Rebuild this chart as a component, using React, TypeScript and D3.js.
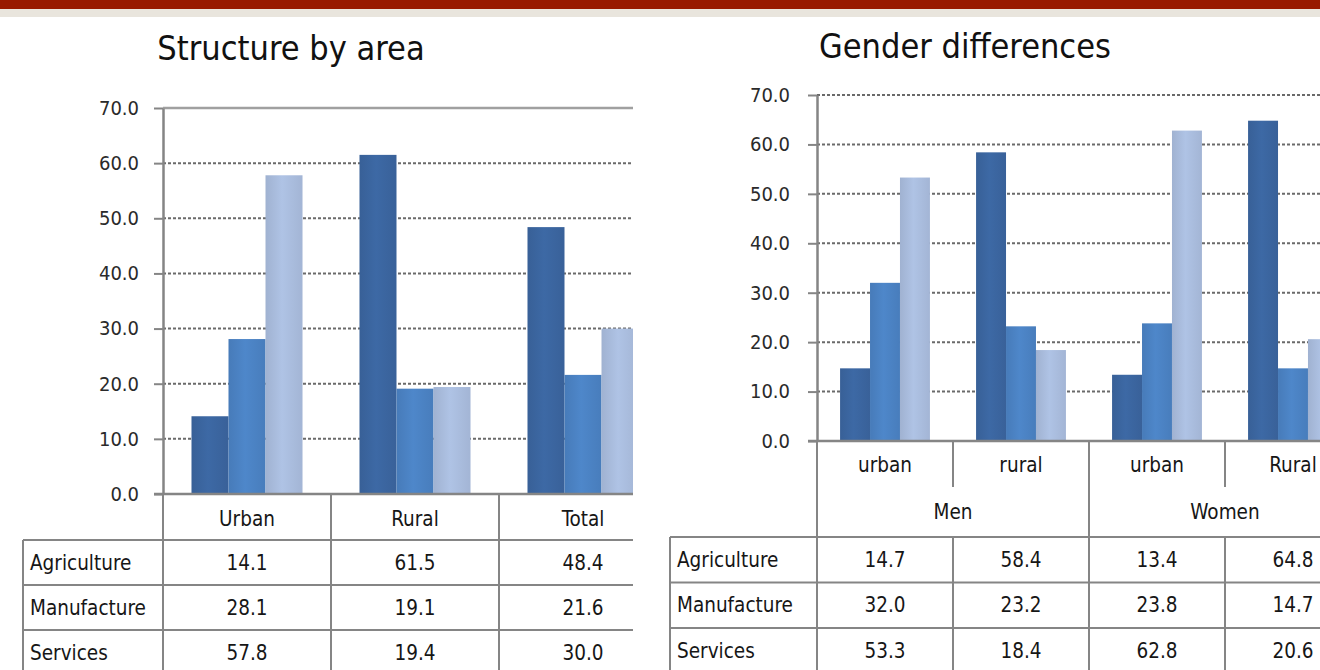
import React, { useEffect, useRef } from "react";
import * as d3 from "d3";

// data
const sectors = ["Agriculture", "Manufacture", "Services"];
const colors = ["#3b659f", "#4b82c3", "#a9bcdd"];
const yTicks = [0, 10, 20, 30, 40, 50, 60, 70];

const areaCategories = ["Urban", "Rural", "Total"];
const areaAgriculture = [14.1, 61.5, 48.4];
const areaManufacture = [28.1, 19.1, 21.6];
const areaServices = [57.8, 19.4, 30.0];

const genderCategories = ["urban", "rural", "urban", "Rural"];
const genderGroups = ["Men", "Women"];
const genderAgriculture = [14.7, 58.4, 13.4, 64.8];
const genderManufacture = [32.0, 23.2, 23.8, 14.7];
const genderServices = [53.3, 18.4, 62.8, 20.6];

const FONT = '"Liberation Sans Narrow", "DejaVu Sans Condensed", "Liberation Sans", sans-serif';
const GRID = "#6a6a6a";
const BORDER = "#858585";
const TXT = 20.5;

export default function App() {
  const ref = useRef<SVGSVGElement>(null);

  useEffect(() => {
    const svg = d3.select(ref.current);
    svg.selectAll("*").remove();

    // top decoration bands
    svg.append("rect").attr("x", 0).attr("y", 0).attr("width", 1320).attr("height", 9).attr("fill", "#981a00");
    svg.append("rect").attr("x", 0).attr("y", 9).attr("width", 1320).attr("height", 8).attr("fill", "#e9e5dd");

    const defs = svg.append("defs");
    colors.forEach((c, i) => {
      const g = defs.append("linearGradient").attr("id", `grad${i}`).attr("x1", 0).attr("x2", 1).attr("y1", 0).attr("y2", 0);
      g.append("stop").attr("offset", "0%").attr("stop-color", d3.color(c)!.darker(0.15).toString());
      g.append("stop").attr("offset", "45%").attr("stop-color", d3.color(c)!.brighter(0.1).toString());
      g.append("stop").attr("offset", "100%").attr("stop-color", d3.color(c)!.darker(0.1).toString());
    });
    defs.append("clipPath").attr("id", "clipLeft").append("rect").attr("x", 0).attr("y", 0).attr("width", 633).attr("height", 670);

    const label = (g: any, x: number, y: number, t: string, anchor = "middle") =>
      g
        .append("text")
        .attr("x", x)
        .attr("y", y)
        .attr("dy", "0.35em")
        .attr("text-anchor", anchor)
        .attr("font-family", FONT)
        .attr("font-size", TXT)
        .attr("fill", "#161616")
        .text(t);

    function drawChart(opts: {
      g: d3.Selection<SVGGElement, unknown, null, undefined>;
      cats: string[];
      series: number[][];
      left: number;
      step: number;
      right: number;
      top: number;
      bottom: number;
      topSolid: boolean;
      tickPad: number;
      tableTop: number;
      rowH: number;
      tableLeft: number;
    }) {
      const { g, cats, series, left, step, right, top, bottom } = opts;
      const y = d3.scaleLinear().domain([0, 70]).range([bottom, top]);
      const x0 = d3
        .scaleBand<number>()
        .domain(cats.map((_, i) => i))
        .range([left, left + step * cats.length]);
      const x1 = d3.scaleBand<number>().domain([0, 1, 2]).range([0, x0.bandwidth()]).paddingOuter(0.77);

      // gridlines
      g.selectAll("line.grid")
        .data(yTicks.filter((t) => t > 0))
        .enter()
        .append("line")
        .attr("x1", left)
        .attr("x2", right)
        .attr("y1", (d) => y(d))
        .attr("y2", (d) => y(d))
        .attr("stroke", (d) => (d === 70 && opts.topSolid ? "#a0a0a0" : GRID))
        .attr("stroke-width", (d) => (d === 70 && opts.topSolid ? 2.5 : 2))
        .attr("stroke-dasharray", (d) => (d === 70 && opts.topSolid ? null : "3,2"));

      // bars
      cats.forEach((_, ci) => {
        series.forEach((vals, si) => {
          g.append("rect")
            .attr("x", x0(ci)! + x1(si)!)
            .attr("y", y(vals[ci]))
            .attr("width", x1.bandwidth())
            .attr("height", bottom - y(vals[ci]))
            .attr("fill", `url(#grad${si})`);
        });
      });

      // y axis
      const axis = g
        .append("g")
        .attr("transform", `translate(${left},0)`)
        .call(
          d3
            .axisLeft(y)
            .tickValues(yTicks)
            .tickFormat(d3.format(".1f"))
            .tickSize(9)
            .tickSizeOuter(0)
            .tickPadding(opts.tickPad)
        );
      axis.select(".domain").attr("stroke", BORDER).attr("stroke-width", 2.5);
      axis.selectAll(".tick line").attr("stroke", BORDER).attr("stroke-width", 2);
      axis
        .selectAll(".tick text")
        .attr("font-family", FONT)
        .attr("font-size", 20)
        .attr("fill", "#2a2a2a");

      // x axis line
      g.append("line")
        .attr("x1", left - 9)
        .attr("x2", right)
        .attr("y1", bottom)
        .attr("y2", bottom)
        .attr("stroke", BORDER)
        .attr("stroke-width", 2.5);

      // table rows
      const rowTops = sectors.map((_, i) => opts.tableTop + i * opts.rowH);
      g.selectAll("line.row")
        .data(rowTops)
        .enter()
        .append("line")
        .attr("x1", opts.tableLeft)
        .attr("x2", right)
        .attr("y1", (d) => d)
        .attr("y2", (d) => d)
        .attr("stroke", BORDER)
        .attr("stroke-width", 2);
      g.append("line")
        .attr("x1", opts.tableLeft)
        .attr("x2", opts.tableLeft)
        .attr("y1", opts.tableTop)
        .attr("y2", 680)
        .attr("stroke", BORDER)
        .attr("stroke-width", 2);
      g.append("line")
        .attr("x1", left)
        .attr("x2", left)
        .attr("y1", bottom)
        .attr("y2", 680)
        .attr("stroke", BORDER)
        .attr("stroke-width", 2);

      sectors.forEach((s, si) => {
        label(g, opts.tableLeft + 7, rowTops[si] + opts.rowH / 2, s, "start");
        cats.forEach((_, ci) => {
          label(g, x0(ci)! + x0.bandwidth() / 2, rowTops[si] + opts.rowH / 2, d3.format(".1f")(series[si][ci]));
        });
      });
      return { x0, y };
    }

    // left chart
    const gl = svg.append("g").attr("clip-path", "url(#clipLeft)");
    const left = drawChart({
      g: gl,
      cats: areaCategories,
      series: [areaAgriculture, areaManufacture, areaServices],
      left: 163,
      step: 168,
      right: 633,
      top: 108,
      bottom: 494,
      topSolid: true,
      tickPad: 15,
      tableTop: 540,
      rowH: 45,
      tableLeft: 23,
    });
    areaCategories.forEach((c, ci) => {
      if (ci > 0)
        gl.append("line")
          .attr("x1", left.x0(ci)!)
          .attr("x2", left.x0(ci)!)
          .attr("y1", 494)
          .attr("y2", 680)
          .attr("stroke", BORDER)
          .attr("stroke-width", 2);
      label(gl, left.x0(ci)! + left.x0.bandwidth() / 2, 519, c);
    });

    // right chart
    const gr = svg.append("g");
    const right = drawChart({
      g: gr,
      cats: genderCategories,
      series: [genderAgriculture, genderManufacture, genderServices],
      left: 817,
      step: 136,
      right: 1320,
      top: 95,
      bottom: 441,
      topSolid: false,
      tickPad: 18,
      tableTop: 537,
      rowH: 45.5,
      tableLeft: 670,
    });
    genderCategories.forEach((c, ci) => {
      if (ci > 0) {
        const x = right.x0(ci)!;
        const segs = ci % 2 === 0 ? [[441, 680]] : [[441, 487], [537, 680]];
        segs.forEach(([a, b]) =>
          gr.append("line")
            .attr("x1", x)
            .attr("x2", x)
            .attr("y1", a)
            .attr("y2", b)
            .attr("stroke", BORDER)
            .attr("stroke-width", 2)
        );
      }
      label(gr, right.x0(ci)! + right.x0.bandwidth() / 2, 465, c);
    });
    genderGroups.forEach((grp, gi) => {
      label(gr, right.x0(gi * 2)! + right.x0.bandwidth(), 512, grp);
    });

    // titles
    svg.append("text")
      .attr("x", 291)
      .attr("y", 48)
      .attr("dy", "0.35em")
      .attr("text-anchor", "middle")
      .attr("font-family", FONT)
      .attr("font-size", 34)
      .attr("fill", "#111")
      .text("Structure by area");
    svg.append("text")
      .attr("x", 965)
      .attr("y", 46)
      .attr("dy", "0.35em")
      .attr("text-anchor", "middle")
      .attr("font-family", FONT)
      .attr("font-size", 34)
      .attr("fill", "#111")
      .text("Gender differences");
  }, []);

  return (
    <svg
      ref={ref}
      width={1320}
      height={670}
      style={{ position: "absolute", left: 0, top: 0, background: "#fff" }}
    />
  );
}
